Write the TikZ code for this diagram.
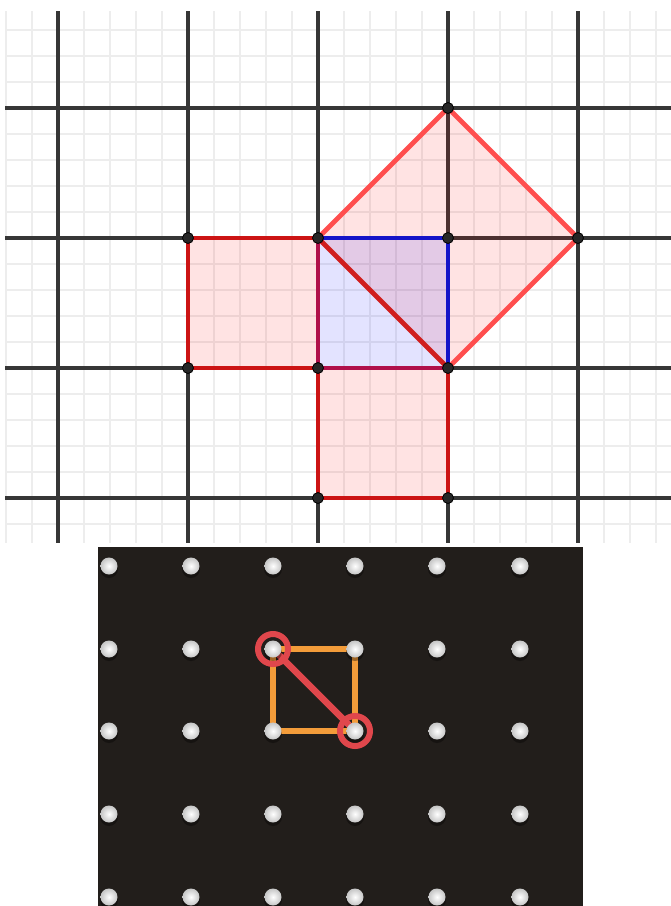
\documentclass[tikz,border=0pt]{standalone}
\usetikzlibrary{calc}
\definecolor{major}{HTML}{363636}
\definecolor{minor}{HTML}{EDEDED}
\definecolor{sqred}{HTML}{CC1414}
\definecolor{dmred}{HTML}{FF4E4E}
\definecolor{diagred}{HTML}{D01E1E}
\definecolor{sqblue}{HTML}{1414C8}
\definecolor{shared}{HTML}{B0104A}
\definecolor{board}{HTML}{221E1B}
\definecolor{band}{HTML}{F39C3A}
\definecolor{ring}{HTML}{E0474C}
\tikzset{
  minorline/.style={minor, line width=1.6pt},
  majorline/.style={major, line width=4pt},
  pinkfill/.style={fill=red, fill opacity=0.11},
  bluefill/.style={fill=blue, fill opacity=0.11},
  edge/.style={line width=4.8pt, line cap=round, line join=round},
  pt/.style={circle, fill=black!85, draw=black, line width=0.8pt, inner sep=0pt, minimum size=11pt},
  peg/.style={circle, inner sep=0pt, minimum size=17pt, shading=radial, inner color=white, outer color=gray!45},
  pegshadow/.style={circle, inner sep=0pt, minimum size=18pt, fill=black, opacity=0.35},
  bandline/.style={band, line width=6pt, line cap=round, line join=round},
  redband/.style={ring, line width=6.5pt, line cap=round},
  ringc/.style={circle, draw=ring, line width=6pt, inner sep=0pt, minimum size=30pt}
}
\begin{document}
\begin{tikzpicture}[x=1pt,y=-1pt]
\useasboundingbox (0,0) rectangle (671,906);
\fill[white] (0,0) rectangle (671,906);
% ---------- grid ----------
\foreach \x in {6,32,84,110,136,162,214,240,266,292,344,370,396,422,474,500,526,552,604,630,656}
  \draw[minorline] (\x,11) -- (\x,543);
\foreach \y in {30,56,82,134,160,186,212,264,290,316,342,394,420,446,472,524}
  \draw[minorline] (5,\y) -- (671,\y);
\foreach \x in {58,188,318,448,578}
  \draw[majorline] (\x,11) -- (\x,543);
\foreach \y in {108,238,368,498}
  \draw[majorline] (5,\y) -- (671,\y);
% ---------- points ----------
\coordinate (A) at (188,238);
\coordinate (B) at (318,238);
\coordinate (C) at (448,238);
\coordinate (D) at (578,238);
\coordinate (E) at (448,108);
\coordinate (F) at (188,368);
\coordinate (G) at (318,368);
\coordinate (H) at (448,368);
\coordinate (I) at (318,498);
\coordinate (J) at (448,498);
% ---------- fills ----------
\fill[pinkfill] (A) -- (B) -- (G) -- (F) -- cycle;
\fill[pinkfill] (G) -- (H) -- (J) -- (I) -- cycle;
\fill[pinkfill] (B) -- (E) -- (D) -- (H) -- cycle;
\fill[bluefill] (B) -- (C) -- (H) -- (G) -- cycle;
% ---------- edges ----------
\draw[edge, sqred] (B) -- (A) -- (F) -- (G);
\draw[edge, sqred] (G) -- (I) -- (J) -- (H);
\draw[edge, dmred] (B) -- (E) -- (D) -- (H);
\draw[edge, shared] (B) -- (G) -- (H);
\draw[edge, sqblue] (B) -- (C) -- (H);
\draw[edge, diagred] (B) -- (H);
% ---------- dots ----------
\foreach \p in {A,B,C,D,E,F,G,H,I,J}
  \node[pt] (d\p) at (\p) {};
% ---------- geoboard ----------
\fill[board] (98,547) rectangle (583,906);
\foreach \y [count=\r] in {566,649,731,814,897}
  \foreach \x [count=\c] in {109,191,273,355,437,520}
    \coordinate (p\r\c) at (\x,\y);
\draw[bandline] (p23) -- (p24) -- (p34) -- (p33) -- cycle;
\draw[redband] (p23) -- (p34);
\node[ringc] (r1) at (p23) {};
\node[ringc] (r2) at (p34) {};
\foreach \r in {1,...,5}
  \foreach \c in {1,...,6}
    \node[pegshadow] (s\r\c) at ($(p\r\c)+(0,3)$) {};
\foreach \r in {1,...,5}
  \foreach \c in {1,...,6}
    \node[peg] (k\r\c) at (p\r\c) {};
\end{tikzpicture}
\end{document}
